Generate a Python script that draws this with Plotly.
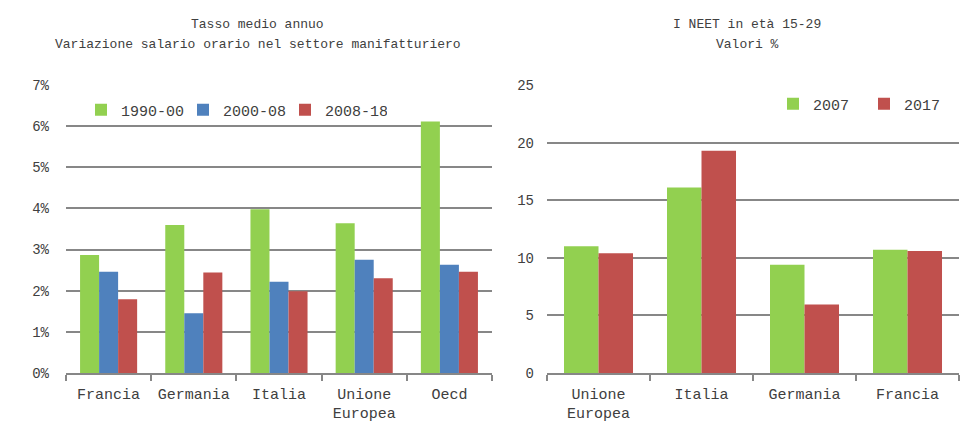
import plotly.graph_objects as go

# Left chart data
left_categories = ["Francia", "Germania", "Italia", "Unione<br>Europea", "Oecd"]
left_series_names = ["1990-00", "2000-08", "2008-18"]
left_1990_00 = [0.0287, 0.0360, 0.0398, 0.0364, 0.0611]
left_2000_08 = [0.0246, 0.0145, 0.0222, 0.0275, 0.0263]
left_2008_18 = [0.0179, 0.0244, 0.0199, 0.0230, 0.0246]

# Right chart data
right_categories = ["Unione<br>Europea", "Italia", "Germania", "Francia"]
right_series_names = ["2007", "2017"]
right_2007 = [11.0, 16.1, 9.4, 10.7]
right_2017 = [10.4, 19.3, 5.95, 10.6]

GREEN = "#92D050"
BLUE = "#4F81BD"
RED = "#C0504D"
TXT = "#404040"
GRID = "#878787"
FONT = "Liberation Mono"

fig = go.Figure()
for name, vals, col in zip(left_series_names, [left_1990_00, left_2000_08, left_2008_18], [GREEN, BLUE, RED]):
    fig.add_trace(go.Bar(x=left_categories, y=vals, name=name, marker=dict(color=col, line_width=0),
                         xaxis="x", yaxis="y", legend="legend"))
for name, vals, col in zip(right_series_names, [right_2007, right_2017], [GREEN, RED]):
    fig.add_trace(go.Bar(x=right_categories, y=vals, name=name, marker=dict(color=col, line_width=0),
                         xaxis="x2", yaxis="y2", legend="legend2"))

W, H = 968, 443
O = 8  # page body offset


def px(x):
    return (x - O) / W


def py(y):
    return (H - (y - O)) / H


common_x = dict(type="category", showline=True, linecolor=GRID, linewidth=1.5, ticks="outside",
                tickson="boundaries", ticklen=6, tickcolor=GRID, tickwidth=1.5, showgrid=False,
                tickangle=0, automargin=False,
                tickfont=dict(family=FONT, size=15, color=TXT), ticklabelstandoff=6)
common_y = dict(showgrid=True, gridcolor=GRID, gridwidth=1.5, showline=False, zeroline=False,
                automargin=False,
                tickfont=dict(family=FONT, size=14, color=TXT), ticks="")

title_font = dict(family=FONT, size=13, color=TXT)

fig.update_layout(
    width=W, height=H,
    margin=dict(l=0, r=0, t=0, b=0, autoexpand=False),
    paper_bgcolor="white", plot_bgcolor="white",
    barmode="group", bargap=0.33, bargroupgap=0,
    xaxis=dict(domain=[px(66), px(492)], anchor="y", **common_x),
    yaxis=dict(domain=[py(373), py(85)], anchor="x", range=[0, 0.07], dtick=0.01, tickformat=".0%",
               ticklabelstandoff=16, **common_y),
    xaxis2=dict(domain=[px(547), px(959)], anchor="y2", **common_x),
    yaxis2=dict(domain=[py(373), py(85)], anchor="x2", range=[0, 25], dtick=5,
                ticklabelstandoff=12, **common_y),
    legend=dict(orientation="h", x=px(81), y=py(110), xanchor="left", yanchor="middle",
                font=dict(family=FONT, size=15, color=TXT), bgcolor="rgba(0,0,0,0)",
                itemwidth=30, entrywidth=57, entrywidthmode="pixels", traceorder="normal"),
    legend2=dict(orientation="h", x=px(773), y=py(104), xanchor="left", yanchor="middle",
                 font=dict(family=FONT, size=15, color=TXT), bgcolor="rgba(0,0,0,0)",
                 itemwidth=30, entrywidth=46, entrywidthmode="pixels", traceorder="normal"),
    showlegend=True,
    annotations=[
        dict(text="Tasso medio annuo", x=px(258), y=py(25), xref="paper", yref="paper",
             xanchor="center", yanchor="middle", showarrow=False, font=title_font),
        dict(text="Variazione salario orario nel settore manifatturiero", x=px(258), y=py(45),
             xref="paper", yref="paper", xanchor="center", yanchor="middle", showarrow=False,
             font=title_font),
        dict(text="I NEET in età 15-29", x=px(747), y=py(25), xref="paper", yref="paper",
             xanchor="center", yanchor="middle", showarrow=False, font=title_font),
        dict(text="Valori %", x=px(747), y=py(45), xref="paper", yref="paper",
             xanchor="center", yanchor="middle", showarrow=False, font=title_font),
    ],
)

fig.write_html("out.html")
